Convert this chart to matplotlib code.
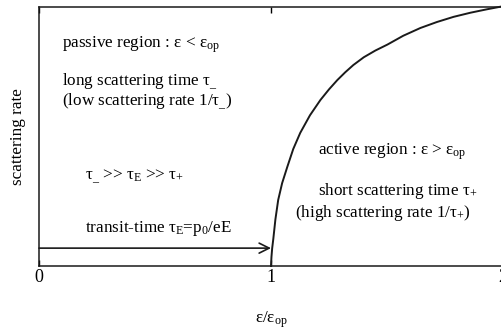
import matplotlib
matplotlib.use("Agg")
import matplotlib.pyplot as plt

plt.rcParams['font.family'] = ['Liberation Serif', 'DejaVu Serif']
plt.rcParams['mathtext.fontset'] = 'custom'
plt.rcParams['mathtext.rm'] = 'Liberation Serif'
plt.rcParams['mathtext.it'] = 'Liberation Serif'

# curve: scattering rate vs eps/eps_op (active branch)
curve_x = [1.000, 1.002, 1.005, 1.010, 1.019, 1.031, 1.048, 1.070, 1.096, 1.126,
           1.168, 1.213, 1.250, 1.286, 1.320, 1.355, 1.400, 1.450, 1.502, 1.570,
           1.644, 1.715, 1.787, 1.860, 1.930, 2.000]
curve_y = [0.000, 0.035, 0.068, 0.105, 0.180, 0.255, 0.320, 0.382, 0.452, 0.514,
           0.582, 0.641, 0.682, 0.718, 0.748, 0.776, 0.806, 0.832, 0.855, 0.889,
           0.919, 0.942, 0.962, 0.978, 0.991, 1.003]
transit_level = 0.069
tick_vals = [0, 1, 2]
tick_labels = ['0', '1', '2']

fs = 12.3
fig = plt.figure(figsize=(5.02, 3.36), dpi=100)
ax = fig.add_axes([39 / 502, 70 / 336, 464 / 502, 259 / 336])
ax.plot(curve_x, curve_y, color='#1a1a1a', lw=1.4, clip_on=False)
ax.annotate('', xy=(1.0, transit_level), xytext=(0.0, transit_level),
            arrowprops=dict(arrowstyle='->', color='#1a1a1a', lw=1.2,
                            shrinkA=0, shrinkB=0, mutation_scale=18))

ax.set_xlim(0, 2)
ax.set_ylim(0, 1)
ax.set_xticks(tick_vals)
ax.set_xticklabels(tick_labels, fontsize=13)
ax.set_yticks([])
ax.tick_params(axis='x', direction='in', top=True, length=4, width=1, pad=2)
for s in ax.spines.values():
    s.set_linewidth(1.1)
    s.set_color('#1a1a1a')
ax.spines['right'].set_visible(False)

ax.set_xlabel(r'ε/ε$_{\mathrm{op}}$', fontsize=fs, labelpad=17)
ax.set_ylabel('scattering rate', fontsize=fs, labelpad=9)

kw = dict(transform=ax.transData, fontsize=fs, va='center')
ax.text(0.099, 0.855, r'passive region : ε < ε$_{\mathrm{op}}$', **kw)
ax.text(0.099, 0.71, r'long scattering time τ$_{\_}$', **kw)
ax.text(0.099, 0.635, r'(low scattering rate 1/τ$_{\_}$)', **kw)
ax.text(0.199, 0.345, r'τ$_{\_}$ >> τ$_{\mathrm{E}}$ >> τ$_{+}$', **kw)
ax.text(0.199, 0.145, r'transit-time τ$_{\mathrm{E}}$=p$_{0}$/eE', **kw)
ax.text(1.204, 0.44, r'active region : ε > ε$_{\mathrm{op}}$', **kw)
ax.text(1.204, 0.29, r'short scattering time τ$_{+}$', **kw)
ax.text(1.105, 0.205, r'(high scattering rate 1/τ$_{+}$)', **kw)

fig.savefig('out.png', dpi=100)
